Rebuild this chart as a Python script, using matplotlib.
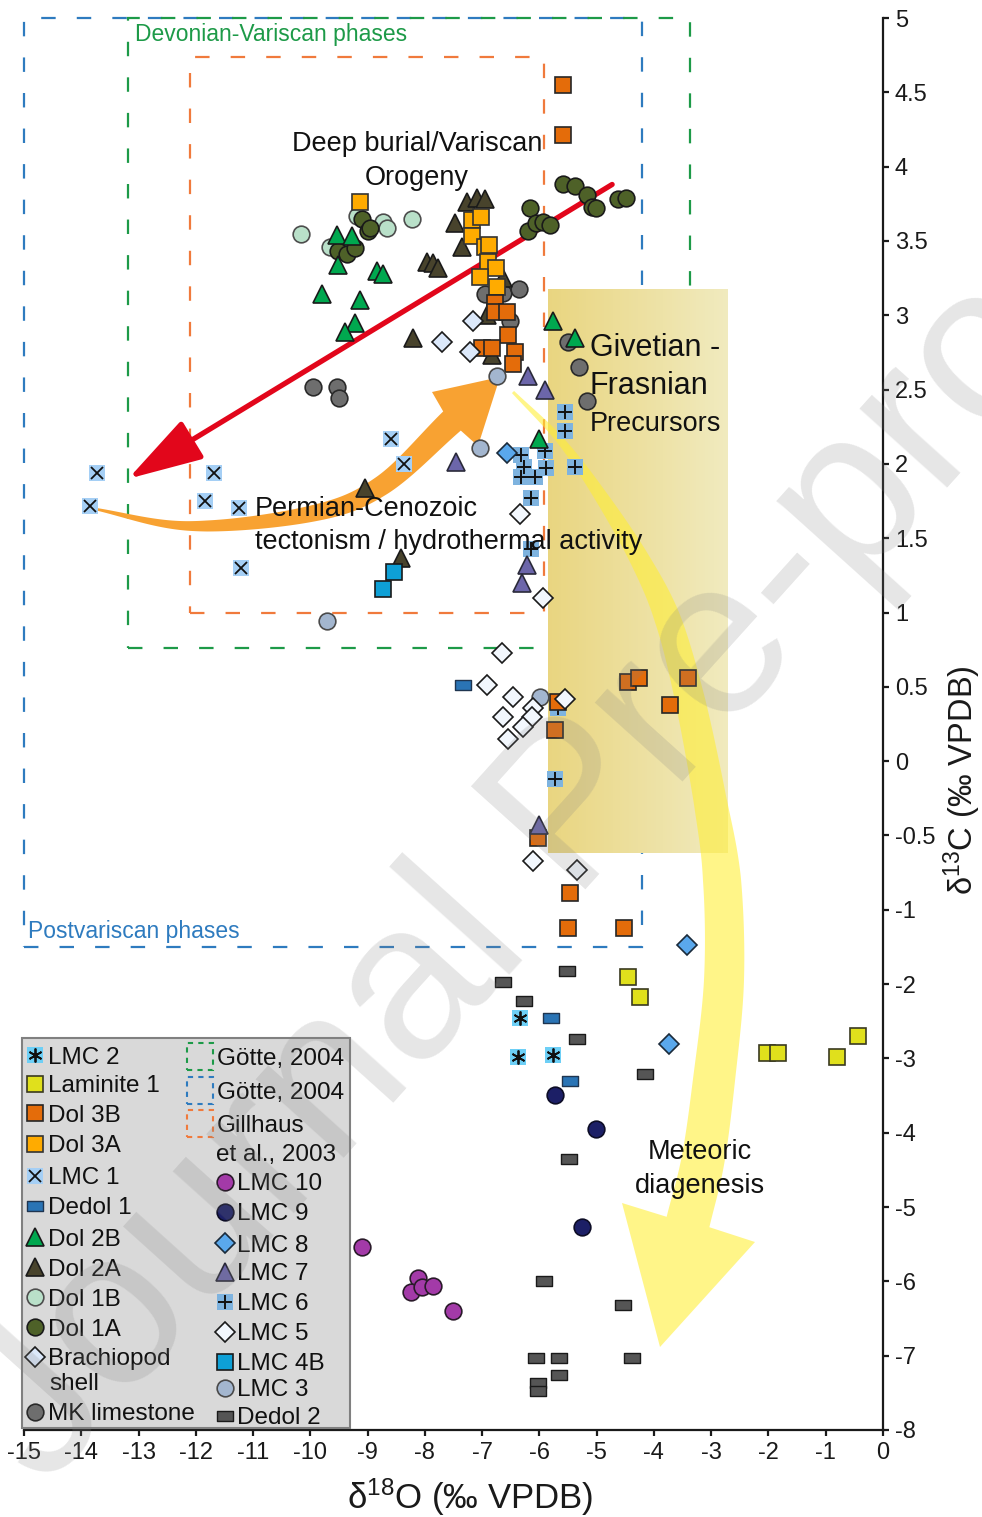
import numpy as np
import matplotlib
matplotlib.use('Agg')
import matplotlib.pyplot as plt
from matplotlib.patches import Rectangle, Polygon
from matplotlib.lines import Line2D
from matplotlib.path import Path

plt.rcParams['font.family'] = ['Liberation Sans', 'DejaVu Sans']
plt.rcParams['mathtext.fontset'] = 'custom'
plt.rcParams['mathtext.rm'] = 'Liberation Sans'
plt.rcParams['mathtext.it'] = 'Liberation Sans:italic'
plt.rcParams['mathtext.bf'] = 'Liberation Sans:bold'
plt.rcParams['axes.unicode_minus'] = False

# ---------------- data (d18O, d13C) ----------------
lmc1_x = [-13.73, -13.85, -11.68, -11.84, -11.25, -11.21, -8.59, -8.36]
lmc1_y = [1.94, 1.72, 1.94, 1.75, 1.70, 1.30, 2.17, 2.00]
dol1b_x = [-10.16, -9.66, -9.19, -8.73, -8.66, -8.22]
dol1b_y = [3.55, 3.46, 3.67, 3.63, 3.59, 3.65]
dol1a_x = [-9.52, -9.36, -9.22, -9.10, -8.99, -8.96, -5.59, -5.38, -5.17, -5.08, -5.01,
           -4.63, -4.49, -6.16, -6.20, -6.06, -5.94, -5.81]
dol1a_y = [3.43, 3.41, 3.45, 3.65, 3.57, 3.59, 3.88, 3.87, 3.81, 3.73, 3.72,
           3.78, 3.79, 3.72, 3.57, 3.62, 3.63, 3.61]
dol2b_x = [-9.53, -9.27, -9.52, -8.84, -8.73, -9.80, -9.13, -9.22, -9.39, -5.76, -5.38, -6.01]
dol2b_y = [3.54, 3.53, 3.34, 3.30, 3.28, 3.14, 3.10, 2.95, 2.89, 2.96, 2.85, 2.17]
dol2a_x = [-7.26, -7.09, -6.95, -7.47, -7.35, -7.96, -7.86, -7.77, -6.64, -6.91, -6.83,
           -8.21, -9.05, -8.42]
dol2a_y = [3.76, 3.79, 3.78, 3.62, 3.46, 3.36, 3.35, 3.32, 3.25, 3.00, 2.73,
           2.85, 1.84, 1.37]
dol3a_x = [-9.13, -7.18, -7.02, -7.18, -6.95, -6.88, -6.90, -6.76, -7.04, -6.74]
dol3a_y = [3.76, 3.64, 3.66, 3.53, 3.46, 3.47, 3.36, 3.32, 3.26, 3.19]
dol3b_x = [-5.59, -5.59, -6.78, -6.78, -6.57, -6.55, -7.00, -6.83, -6.43, -6.46,
           -4.45, -4.26, -3.41, -3.72, -5.68, -5.73, -6.02, -5.47, -5.50, -4.52]
dol3b_y = [4.55, 4.21, 3.08, 3.02, 3.02, 2.87, 2.78, 2.78, 2.75, 2.67,
           0.53, 0.56, 0.56, 0.38, 0.40, 0.21, -0.52, -0.89, -1.24, -1.24]
mk_x = [-9.95, -9.53, -9.50, -6.95, -6.64, -6.36, -6.51, -5.50, -5.31, -5.17]
mk_y = [2.52, 2.52, 2.44, 3.14, 3.15, 3.18, 2.96, 2.82, 2.65, 2.42]
lmc3_x = [-6.74, -7.04, -9.71, -5.99]
lmc3_y = [2.59, 2.11, 0.94, 0.43]
brach_x = [-7.16, -7.70, -7.21]
brach_y = [2.96, 2.82, 2.75]
lmc5_x = [-6.34, -5.94, -6.65, -6.91, -6.46, -6.11, -6.13, -6.64, -6.29, -6.55, -5.55, -6.11, -5.34]
lmc5_y = [1.66, 1.10, 0.73, 0.51, 0.43, 0.36, 0.30, 0.30, 0.23, 0.15, 0.42, -0.67, -0.73]
lmc6_x = [-5.55, -5.55, -6.32, -5.90, -6.27, -5.89, -5.38, -6.32, -6.08, -6.15, -6.15, -5.73, -5.68]
lmc6_y = [2.35, 2.22, 2.06, 2.09, 1.98, 1.97, 1.98, 1.91, 1.91, 1.77, 1.43, -0.12, 0.36]
lmc4b_x = [-8.54, -8.73]
lmc4b_y = [1.27, 1.16]
lmc7_x = [-6.20, -5.90, -7.46, -6.22, -6.30, -6.01]
lmc7_y = [2.59, 2.50, 2.01, 1.32, 1.20, -0.43]
lmc8_x = [-6.57, -3.42, -3.74]
lmc8_y = [2.07, -1.48, -2.81]
dedol1_x = [-7.33, -5.80, -5.47]
dedol1_y = [0.51, -2.46, -3.31]
dedol2_x = [-5.52, -6.64, -6.27, -5.34, -4.16, -5.48, -5.92, -4.54, -6.06, -5.66, -4.38, -5.66, -6.02, -6.02]
dedol2_y = [-1.82, -1.97, -2.23, -2.74, -3.21, -4.35, -5.99, -6.32, -7.03, -7.03, -7.03, -7.26, -7.37, -7.48]
lmc2_x = [-6.34, -6.37, -5.76]
lmc2_y = [-2.46, -2.98, -2.96]
lmc9_x = [-5.73, -5.01, -5.26]
lmc9_y = [-3.49, -3.95, -5.27]
lmc10_x = [-9.10, -8.12, -8.24, -8.05, -7.86, -7.51]
lmc10_y = [-5.54, -5.96, -6.14, -6.07, -6.06, -6.40]
lam1_x = [-4.45, -4.24, -2.03, -1.83, -0.80, -0.44]
lam1_y = [-1.91, -2.17, -2.93, -2.93, -2.98, -2.70]

xticks = list(range(-15, 1))
yticks = [5, 4.5, 4, 3.5, 3, 2.5, 2, 1.5, 1, 0.5, 0, -0.5, -1, -2, -3, -4, -5, -6, -7, -8]
ytick_labels = ['5', '4.5', '4', '3.5', '3', '2.5', '2', '1.5', '1', '0.5', '0', '-0.5',
                '-1', '-2', '-3', '-4', '-5', '-6', '-7', '-8']

# field boxes (x0, x1, y0, y1)
box_green = (-13.18, -3.37, 0.76, 5.0)
box_blue = (-15.0, -4.21, -1.5, 5.0)
box_orange = (-12.1, -5.92, 1.0, 4.74)
box_yellow = (-5.85, -2.71, -0.62, 3.18)
red_arrow = ((-4.73, 3.88), (-13.18, 1.90))

# ---------------- figure ----------------
W, H = 982, 1517
fig = plt.figure(figsize=(W / 100, H / 100), dpi=100)
ax = fig.add_axes([24 / W, 1 - 1430 / H, (883 - 24) / W, (1430 - 18) / H])


def fwd(y):
    y = np.asarray(y, float)
    return np.where(y >= -1, y, -1 + (y + 1) / 2.0)


def inv(t):
    t = np.asarray(t, float)
    return np.where(t >= -1, t, -1 + 2.0 * (t + 1))


ax.set_yscale('function', functions=(fwd, inv))
ax.set_xlim(-15, 0)
ax.set_ylim(-8, 5)

for sp in ['left', 'top']:
    ax.spines[sp].set_visible(False)
for sp in ['right', 'bottom']:
    ax.spines[sp].set_linewidth(1.6)
    ax.spines[sp].set_color('#1a1a1a')
ax.yaxis.tick_right()
ax.yaxis.set_label_position('right')
ax.set_xticks(xticks)
ax.set_xticklabels([str(v) for v in xticks])
ax.set_yticks(yticks)
ax.set_yticklabels(ytick_labels)
ax.yaxis.set_minor_locator(matplotlib.ticker.NullLocator())
ax.tick_params(axis='both', direction='out', length=4.5, width=1.6, labelsize=17,
               colors='#1a1a1a', pad=4)
ax.set_xlabel(r'δ$^{18}$O (‰ VPDB)', fontsize=25, color='#1a1a1a')
ax.xaxis.set_label_coords((470 - 24) / 859, (1430 - 1476) / 1412)
ax.set_ylabel(r'δ$^{13}$C (‰ VPDB)', fontsize=23.5, color='#1a1a1a')
ax.yaxis.set_label_coords((942 - 24) / 859, (1430 - 780) / 1412)


# dashed boxes
def dashed_box(b, color, z):
    r = Rectangle((b[0], b[2]), b[1] - b[0], b[3] - b[2], fill=False, edgecolor=color,
                  lw=1.6, linestyle=(0, (6.5, 9.5)), zorder=z, clip_on=False)
    ax.add_patch(r)


dashed_box(box_blue, '#2e7bbf', 1.0)
dashed_box(box_green, '#1d9a48', 1.1)
dashed_box(box_orange, '#f07a3c', 1.2)

# yellow gradient box
c0 = np.array([233, 213, 128]) / 255.0
c1 = np.array([240, 234, 190]) / 255.0
nstrip = 80
xs = np.linspace(box_yellow[0], box_yellow[1], nstrip + 1)
for i in range(nstrip):
    f = i / (nstrip - 1)
    col = c0 * (1 - f) + c1 * f
    ax.add_patch(Rectangle((xs[i], box_yellow[2]), (xs[i + 1] - xs[i]) * 1.05,
                           box_yellow[3] - box_yellow[2], facecolor=col, edgecolor='none',
                           lw=0, zorder=1.5, antialiased=False))


# ---------------- arrows (figure pixel geometry) ----------------
def smooth(pts, n=400):
    pts = np.asarray(pts, float)
    P = np.vstack([2 * pts[0] - pts[1], pts, 2 * pts[-1] - pts[-2]])
    out = []
    m = max(4, n // (len(pts) - 1))
    for i in range(1, len(P) - 2):
        p0, p1, p2, p3 = P[i - 1], P[i], P[i + 1], P[i + 2]
        t = np.linspace(0, 1, m, endpoint=False)[:, None]
        seg = 0.5 * ((2 * p1) + (-p0 + p2) * t + (2 * p0 - 5 * p1 + 4 * p2 - p3) * t ** 2
                     + (-p0 + 3 * p1 - 3 * p2 + p3) * t ** 3)
        out.append(seg)
    out.append(pts[-1][None, :])
    return np.vstack(out)


def arrow_poly(pts, wu, ww, barbA, tip, barbB):
    C = smooth(pts)
    d = np.gradient(C, axis=0)
    d /= np.linalg.norm(d, axis=1)[:, None]
    nrm = np.column_stack([-d[:, 1], d[:, 0]])
    s = np.concatenate([[0], np.cumsum(np.linalg.norm(np.diff(C, axis=0), axis=1))])
    u = s / s[-1]
    w = np.interp(u, wu, ww)
    L = C + nrm * w[:, None] / 2
    R = C - nrm * w[:, None] / 2
    b1, b2 = np.array(barbA, float), np.array(barbB, float)
    if np.dot(b1 - C[-1], nrm[-1]) < 0:
        b1, b2 = b2, b1
    poly = np.vstack([L, [b1], [tip], [b2], R[::-1]])
    return np.column_stack([poly[:, 0] / W, 1 - poly[:, 1] / H])


ax.set_zorder(1)
ax.patch.set_visible(False)

yellow_pts = [(513, 392), (560, 440), (600, 495), (640, 560), (668, 620), (690, 700),
              (710, 800), (722, 880), (724, 980), (714, 1080), (703, 1160), (688, 1222)]
ypoly = arrow_poly(yellow_pts, [0, 0.08, 0.15, 0.24, 0.31, 0.41, 0.52, 0.61, 0.84, 1.0],
                   [3, 8, 13, 20, 26, 30, 33, 38, 42, 44],
                   (622, 1203), (660, 1347), (755, 1242))
ax.add_patch(Polygon(ypoly, closed=True, transform=fig.transFigure, facecolor='#ffee33',
                     edgecolor='none', alpha=0.58, zorder=2.0, clip_on=False))

orange_pts = [(90, 508), (190, 526), (310, 514), (381, 486), (452, 421)]
opoly = arrow_poly(orange_pts, [0, 0.3, 0.6, 0.8, 1.0], [2, 11, 17, 21, 26],
                   (432, 392), (500, 377), (478, 446))
ax.add_patch(Polygon(opoly, closed=True, transform=fig.transFigure, facecolor='#f8a232',
                     edgecolor='none', zorder=2.2, clip_on=False))

ax.annotate('', xy=red_arrow[1], xytext=red_arrow[0], xycoords='data', textcoords='data',
            arrowprops=dict(arrowstyle='-|>,head_length=2.1,head_width=0.62', lw=3.8,
                            color='#e2061b', mutation_scale=22, shrinkA=0, shrinkB=0),
            zorder=2.3)

# ---------------- markers ----------------
rect_marker = Path([(-1, -0.55), (1, -0.55), (1, 0.55), (-1, 0.55), (-1, -0.55)],
                   [Path.MOVETO, Path.LINETO, Path.LINETO, Path.LINETO, Path.CLOSEPOLY])
SQ, CI, TR, DI, RE = 11, 12, 13.5, 9.8, 12

styles = {
    'LMC 2': [('s', SQ, '#6dcff6', 'none', 0), ((6, 2, 0), 10, 'k', '#111111', 1.3)],
    'Laminite 1': [('s', SQ, '#e0e01c', '#3a3a20', 1.2)],
    'Dol 3B': [('s', SQ, '#e46c0a', '#262626', 1.2)],
    'Dol 3A': [('s', SQ, '#ffab00', '#333333', 1.2)],
    'LMC 1': [('s', SQ, '#a5cff5', 'none', 0), ('x', 8.5, 'k', '#111111', 1.3)],
    'Dedol 1': [(rect_marker, RE, '#2a74b5', '#1f3550', 1.0)],
    'Dol 2B': [('^', TR, '#00a84f', '#1a1a1a', 1.2)],
    'Dol 2A': [('^', TR, '#48432c', '#1a1a1a', 1.2)],
    'Dol 1B': [('o', CI, '#b9e0c9', '#4d4d4d', 1.2)],
    'Dol 1A': [('o', CI, '#4e6128', '#1a1a1a', 1.2)],
    'Brachiopod\nshell': [('D', DI, '#dbe8fa', '#1a1a1a', 1.2)],
    'MK limestone': [('o', CI, '#6e6e6e', '#2a2a2a', 1.2)],
    'LMC 10': [('o', CI, '#a33aa8', '#2a1a2a', 1.2)],
    'LMC 9': [('o', CI, '#1c1f66', '#0d0d26', 1.2)],
    'LMC 8': [('D', DI, '#5aa8ec', '#1a2a3a', 1.2)],
    'LMC 7': [('^', TR, '#6c66aa', '#2a2a3a', 1.2)],
    'LMC 6': [('s', SQ, '#7eb3df', 'none', 0), ('+', 10, 'k', '#111111', 1.4)],
    'LMC 5': [('D', DI, '#f2f7fd', '#1a1a1a', 1.2)],
    'LMC 4B': [('s', SQ, '#0ea0d6', '#1a1a1a', 1.2)],
    'LMC 3': [('o', CI, '#a3b6cf', '#4a4a4a', 1.2)],
    'Dedol 2': [(rect_marker, RE, '#555555', '#1a1a1a', 1.0)],
}

series = [
    ('LMC 6', lmc6_x, lmc6_y), ('MK limestone', mk_x, mk_y), ('Dol 1B', dol1b_x, dol1b_y),
    ('Dol 1A', dol1a_x, dol1a_y), ('Dol 2A', dol2a_x, dol2a_y), ('Dol 2B', dol2b_x, dol2b_y),
    ('Dol 3A', dol3a_x, dol3a_y), ('Dol 3B', dol3b_x, dol3b_y), ('LMC 3', lmc3_x, lmc3_y),
    ('Brachiopod\nshell', brach_x, brach_y), ('LMC 5', lmc5_x, lmc5_y),
    ('LMC 7', lmc7_x, lmc7_y), ('LMC 8', lmc8_x, lmc8_y), ('LMC 1', lmc1_x, lmc1_y),
    ('LMC 4B', lmc4b_x, lmc4b_y), ('Dedol 1', dedol1_x, dedol1_y),
    ('Dedol 2', dedol2_x, dedol2_y), ('LMC 2', lmc2_x, lmc2_y), ('LMC 9', lmc9_x, lmc9_y),
    ('LMC 10', lmc10_x, lmc10_y), ('Laminite 1', lam1_x, lam1_y),
]

z = 3.0
for name, xv, yv in series:
    for (mk, ms, fc, ec, ew) in styles[name]:
        ax.plot(xv, yv, ls='none', marker=mk, ms=ms, mfc=fc, mec=ec, mew=ew, zorder=z,
                clip_on=False)
        z += 0.01
    z += 0.05


# ---------------- text annotations ----------------
def ftext(px, py, s, **kw):
    kw.setdefault('color', '#111111')
    kw.setdefault('zorder', 8)
    fig.text(px / W, 1 - py / H, s, **kw)


ftext(135, 41, 'Devonian-Variscan phases', fontsize=16.5, color='#1d9a48', ha='left', va='baseline')
ftext(28, 938, 'Postvariscan phases', fontsize=16.5, color='#2e7bbf', ha='left', va='baseline')
ftext(417, 151, 'Deep burial/Variscan', fontsize=19.5, ha='center', va='baseline')
ftext(417, 185, 'Orogeny', fontsize=19.5, ha='center', va='baseline')
ftext(590, 356, 'Givetian -', fontsize=22, ha='left', va='baseline')
ftext(590, 394, 'Frasnian', fontsize=22, ha='left', va='baseline')
ftext(590, 431, 'Precursors', fontsize=19.5, ha='left', va='baseline')
ftext(255, 516, 'Permian-Cenozoic', fontsize=19.5, ha='left', va='baseline')
ftext(255, 549, 'tectonism / hydrothermal activity', fontsize=19.5, ha='left', va='baseline')
ftext(700, 1159, 'Meteoric', fontsize=19.5, ha='center', va='baseline')
ftext(700, 1193, 'diagenesis', fontsize=19.5, ha='center', va='baseline')

# ---------------- legend (manual) ----------------
fig.add_artist(Rectangle((22 / W, 1 - 1428 / H), (350 - 22) / W, (1428 - 1038) / H,
                         transform=fig.transFigure, facecolor='#d9d9d9', edgecolor='#808080',
                         lw=1.5, zorder=5))


def leg_marker(px, py, name):
    for (mk, ms, fc, ec, ew) in styles[name]:
        fig.add_artist(Line2D([px / W], [1 - py / H], transform=fig.transFigure, ls='none',
                              marker=mk, ms=ms, mfc=fc, mec=ec, mew=ew, zorder=6))


left_col = [('LMC 2', 1055), ('Laminite 1', 1084), ('Dol 3B', 1113), ('Dol 3A', 1144),
            ('LMC 1', 1176), ('Dedol 1', 1206), ('Dol 2B', 1237), ('Dol 2A', 1267),
            ('Dol 1B', 1297), ('Dol 1A', 1327), ('Brachiopod\nshell', 1357),
            ('MK limestone', 1412)]
for name, py in left_col:
    leg_marker(35, py, name)
    lines = name.split('\n')
    for k, ln in enumerate(lines):
        ftext(48 if k == 0 else 49, py + 8.5 + 25 * k, ln, fontsize=17.5, ha='left',
              va='baseline', zorder=7)

right_col = [('LMC 10', 1182), ('LMC 9', 1212), ('LMC 8', 1243), ('LMC 7', 1272),
             ('LMC 6', 1302), ('LMC 5', 1332), ('LMC 4B', 1362), ('LMC 3', 1388),
             ('Dedol 2', 1416)]
for name, py in right_col:
    leg_marker(225, py, name)
    ftext(237, py + 8.5, name, fontsize=17.5, ha='left', va='baseline', zorder=7)

ref_boxes = [('#1d9a48', 1043, 'Götte, 2004', 1056), ('#2e7bbf', 1077, 'Götte, 2004', 1090),
             ('#f07a3c', 1110, 'Gillhaus', 1123)]
for col, ytop, txt, ty in ref_boxes:
    fig.add_artist(Rectangle((187 / W, 1 - (ytop + 27) / H), 26 / W, 27 / H,
                             transform=fig.transFigure, fill=False, edgecolor=col, lw=1.5,
                             linestyle=(0, (2.5, 2.5)), zorder=6))
    ftext(217, ty + 8.5, txt, fontsize=17.5, ha='left', va='baseline', zorder=7)
ftext(216, 1161.5, 'et al., 2003', fontsize=17.5, ha='left', va='baseline', zorder=7)

# watermark
ftext(45, 1490, 'Journal Pre-proof', fontsize=160, color='#808080', alpha=0.2,
      rotation=48, rotation_mode='anchor', ha='left', va='baseline', zorder=100)

fig.savefig('out.png', dpi=100)
